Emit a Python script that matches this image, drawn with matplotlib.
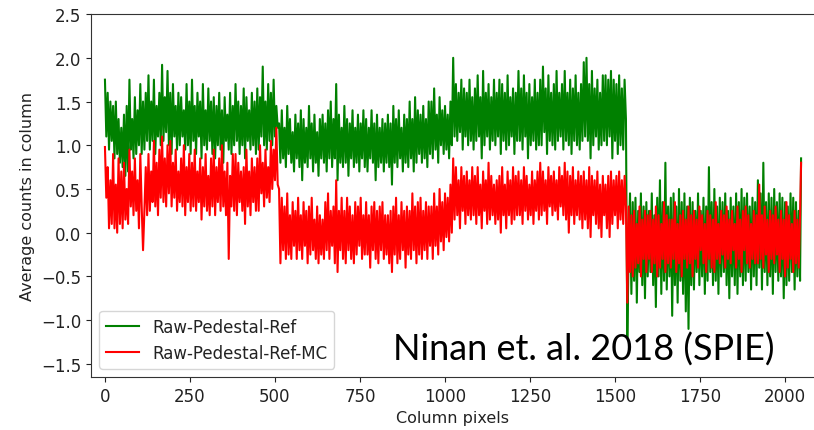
import matplotlib
matplotlib.use("Agg")
import matplotlib.pyplot as plt

# Column positions (every 4 columns, plus last column)
columns = list(range(0, 2048, 4)) + [2047]

ref = [
    1.75, 1.1, 1.6, 0.95, 1.5, 1.05, 1.45, 0.85, 1.5, 0.9, 1.3, 0.8, 1.2, 0.75, 1.35, 0.65,
    1.45, 0.7, 1.75, 0.95, 1.3, 0.85, 1.55, 0.9, 1.4, 1.0, 1.7, 0.9, 1.5, 0.95, 1.6, 1.05,
    1.8, 0.95, 1.5, 1.05, 1.75, 0.9, 1.45, 1.1, 1.6, 1.0, 1.92, 1.05, 1.55, 1.15, 1.85, 1.0,
    1.6, 0.9, 1.7, 1.1, 1.45, 0.95, 1.6, 1.0, 1.55, 1.1, 1.4, 0.95, 1.7, 1.0, 1.5, 0.9,
    1.75, 1.05, 1.45, 0.9, 1.6, 1.1, 1.5, 0.85, 1.7, 1.0, 1.4, 0.95, 1.65, 1.05, 1.5, 0.9,
    1.55, 0.85, 1.45, 1.0, 1.6, 0.95, 1.4, 0.8, 1.55, 1.05, 1.35, 0.95, 1.6, 0.9, 1.45, 1.0,
    1.7, 1.05, 1.5, 0.9, 1.45, 1.0, 1.65, 0.85, 1.55, 1.05, 1.4, 0.95, 1.6, 1.0, 1.5, 0.9,
    1.65, 0.95, 1.55, 1.1, 1.9, 1.0, 1.5, 0.95, 1.7, 1.05, 1.6, 1.0, 1.75, 1.1, 1.45, 1.2,
    1.25, 0.8, 1.4, 0.85, 1.2, 0.75, 1.45, 0.9, 1.3, 0.8, 1.15, 0.7, 1.35, 0.85, 1.25, 0.75,
    1.4, 0.6, 1.3, 0.8, 1.2, 0.75, 1.45, 0.85, 1.25, 0.7, 1.35, 0.8, 1.15, 0.65, 1.3, 0.85,
    1.35, 0.8, 1.25, 0.7, 1.4, 0.85, 1.5, 0.75, 1.3, 0.85, 1.7, 0.6, 1.35, 0.8, 1.2, 0.75,
    1.45, 0.8, 1.3, 0.65, 1.25, 0.85, 1.4, 0.75, 1.2, 0.8, 1.35, 0.7, 1.25, 0.85, 1.4, 0.75,
    1.3, 0.7, 1.2, 0.85, 1.4, 0.8, 1.25, 0.6, 1.35, 0.75, 1.2, 0.8, 1.3, 0.7, 1.25, 0.8,
    1.35, 0.75, 1.25, 0.55, 1.45, 0.8, 1.3, 0.75, 1.4, 0.85, 1.2, 0.7, 1.35, 0.8, 1.3, 0.75,
    1.5, 0.85, 1.3, 0.7, 1.55, 0.8, 1.4, 0.9, 1.35, 0.8, 1.45, 0.85, 1.3, 0.75, 1.5, 0.9,
    1.5, 0.85, 1.65, 0.95, 1.35, 0.8, 1.55, 1.0, 1.4, 0.9, 1.45, 0.95, 1.35, 0.85, 1.5, 1.0,
    2.0, 1.1, 1.7, 1.05, 1.6, 1.15, 1.75, 0.95, 1.65, 1.1, 1.6, 1.0, 1.75, 1.05, 1.55, 0.95,
    1.65, 1.05, 1.8, 1.1, 1.55, 0.85, 1.85, 1.0, 1.6, 1.1, 1.7, 0.95, 1.55, 1.05, 1.75, 1.0,
    1.6, 1.1, 1.75, 0.9, 1.7, 1.05, 1.6, 0.95, 1.8, 1.0, 1.55, 1.1, 1.65, 0.9, 1.6, 1.05,
    1.85, 1.05, 1.65, 0.95, 1.8, 1.1, 1.6, 0.85, 1.7, 1.0, 1.55, 1.05, 1.75, 0.95, 1.6, 1.0,
    1.75, 1.0, 1.9, 1.15, 1.65, 0.9, 1.8, 1.05, 1.6, 1.0, 1.7, 0.95, 1.85, 1.05, 1.6, 1.1,
    1.7, 0.95, 1.85, 1.05, 1.6, 1.0, 1.75, 0.9, 1.65, 1.05, 1.8, 1.0, 1.6, 0.95, 1.7, 1.05,
    1.95, 1.1, 2.0, 1.05, 1.7, 0.85, 1.85, 1.0, 1.65, 1.1, 1.75, 0.95, 1.6, 1.0, 1.8, 1.05,
    1.8, 1.0, 1.75, 1.1, 1.85, 0.85, 1.75, 1.05, 1.7, 0.9, 1.8, 1.0, 1.65, 0.95, 1.75, 1.3,
    -1.2, -0.2, 0.45, -0.7, 0.35, -0.55, 0.4, -0.8, 0.25, -0.45, 0.45, -0.6, 0.3, -0.75, 0.35, -0.5,
    0.25, -0.45, 0.45, -0.6, 0.2, -0.85, 0.4, -0.5, 0.6, -0.7, 0.35, -0.55, 0.8, -0.65, 0.3, -0.5,
    0.4, -0.95, 0.45, -0.6, 0.3, -0.8, 0.5, -0.55, 0.35, -0.7, 0.45, -0.9, 0.3, -1.1, 0.4, -0.6,
    0.35, -0.65, 0.25, -0.45, 0.45, -0.6, 0.25, -0.5, 0.4, -0.7, 0.3, -0.55, 0.75, -0.45, 0.35, -0.6,
    0.5, -0.55, 0.3, -0.7, 0.4, -0.5, 0.35, -0.45, 0.45, -0.6, 0.25, -0.75, 0.4, -0.5, 0.3, -0.6,
    0.45, -0.7, 0.35, -0.5, 0.5, -0.6, 0.4, -0.55, 0.45, -0.45, 0.3, -0.65, 0.4, -0.5, 0.35, -0.6,
    0.6, -0.4, 0.45, -0.65, 0.8, -0.45, 0.35, -0.6, 0.45, -0.5, 0.4, -0.7, 0.5, -0.45, 0.35, -0.55,
    0.45, -0.5, 0.4, -0.75, 0.35, -0.6, 0.3, -0.55, 0.45, -0.45, 0.4, -0.65, 0.35, -0.5, 0.25, -0.55,
    0.85,
]

ref_mc = [
    0.98, 0.4, 0.75, 0.05, 0.6, 0.1, 0.9, 0.05, 0.55, 0.0, 0.85, 0.1, 0.7, 0.05, 0.8, 0.15,
    0.5, 0.1, 0.95, 0.3, 0.7, 0.2, 0.85, 0.25, 0.6, 0.05, 0.9, 0.3, -0.2, 0.25, 0.75, 0.2,
    0.9, 0.25, 0.7, 0.35, 1.05, 0.3, 0.8, 0.2, 0.95, 0.4, 1.1, 0.35, 0.85, 0.3, 1.0, 0.45,
    1.05, 0.3, 0.8, 0.4, 0.95, 0.25, 0.7, 0.35, 0.85, 0.3, 1.0, 0.2, 0.75, 0.35, 0.9, 0.25,
    0.8, 0.3, 0.95, 0.25, 0.7, 0.35, 0.85, 0.15, 0.75, 0.3, 0.9, 0.25, 0.65, 0.2, 0.85, 0.3,
    0.95, 0.2, 0.75, 0.35, 0.85, 0.25, 1.0, 0.3, 0.7, 0.2, 0.8, -0.3, 0.65, 0.3, 0.9, 0.25,
    0.9, 0.2, 0.8, 0.35, 0.7, 0.25, 0.75, 0.1, 0.95, 0.3, 0.7, 0.2, 0.85, 0.35, 0.75, 0.25,
    0.85, 0.25, 1.0, 0.45, 0.8, 0.3, 0.95, 0.4, 0.75, 0.35, 1.05, 0.5, 0.95, 0.6, 1.2, 0.55,
    0.5, -0.35, 0.4, -0.2, 0.3, -0.3, 0.45, -0.25, 0.2, -0.3, 0.35, -0.15, 0.25, -0.3, 0.4, -0.2,
    0.2, -0.3, 0.35, -0.15, 0.25, -0.35, 0.3, -0.25, 0.4, -0.2, 0.15, -0.3, 0.3, -0.35, 0.2, -0.25,
    0.15, -0.3, 0.35, -0.2, 0.45, -0.3, 0.25, -0.15, 0.3, -0.35, 0.6, -0.45, 0.25, -0.2, 0.4, -0.3,
    0.25, -0.35, 0.4, -0.2, 0.3, -0.3, 0.2, -0.35, 0.35, -0.25, 0.3, -0.15, 0.4, -0.3, 0.2, -0.25,
    0.35, -0.25, 0.2, -0.4, 0.3, -0.2, 0.35, -0.3, 0.25, -0.35, 0.3, -0.2, 0.35, -0.3, 0.2, -0.25,
    0.2, -0.35, 0.25, -0.45, 0.3, -0.25, 0.4, -0.35, 0.2, -0.3, 0.35, -0.2, 0.25, -0.4, 0.3, -0.25,
    0.25, -0.3, 0.45, -0.2, 0.3, -0.35, 0.35, -0.25, 0.4, -0.3, 0.25, -0.2, 0.35, -0.3, 0.3, -0.15,
    0.3, -0.3, 0.45, -0.15, 0.3, -0.25, 0.5, -0.1, 0.35, -0.2, 0.45, -0.05, 0.4, -0.1, 0.55, 0.0,
    0.85, 0.15, 0.75, 0.2, 0.6, 0.05, 0.75, 0.25, 0.65, 0.1, 0.7, 0.2, 0.6, 0.15, 0.75, 0.2,
    0.65, 0.1, 0.75, 0.2, 0.55, 0.05, 0.7, 0.25, 0.6, 0.1, 0.8, 0.15, 0.65, 0.2, 0.55, 0.1,
    0.6, 0.15, 0.65, 0.0, 0.75, 0.2, 0.55, 0.05, 0.7, 0.2, 0.6, 0.1, 0.75, 0.15, 0.65, 0.2,
    0.7, 0.2, 0.6, 0.1, 0.75, 0.25, 0.65, 0.15, 0.55, 0.2, 0.7, 0.1, 0.6, 0.25, 0.7, 0.15,
    0.8, 0.2, 0.7, 0.25, 0.6, 0.1, 0.75, 0.3, 0.65, 0.2, 0.7, 0.25, 0.6, 0.15, 0.75, 0.3,
    0.65, 0.2, 0.8, 0.15, 0.7, 0.0, 0.65, 0.2, 0.75, 0.1, 0.6, 0.2, 0.7, 0.15, 0.65, 0.05,
    0.7, 0.15, 0.6, 0.05, 0.75, -0.05, 0.65, 0.2, 0.6, 0.1, 0.7, 0.05, 0.55, -0.05, 0.65, 0.2,
    0.55, 0.05, 0.65, -0.05, 0.7, 0.1, 0.6, 0.2, 0.65, 0.05, 0.7, 0.15, 0.6, 0.1, 0.65, 0.3,
    -0.8, 0.3, -0.45, 0.2, -0.5, 0.25, -0.4, 0.1, -0.35, 0.3, -0.5, 0.15, -0.3, 0.25, -0.45, 0.2,
    -0.3, 0.25, -0.45, 0.15, -0.35, 0.3, -0.5, 0.2, -0.4, 0.1, -0.3, 0.35, -0.45, 0.2, -0.35, 0.15,
    -0.4, 0.15, -0.3, 0.35, -0.45, 0.1, -0.35, 0.2, -0.5, 0.25, -0.3, 0.15, -0.4, 0.3, -0.35, 0.2,
    -0.5, 0.25, -0.3, 0.15, -0.4, 0.3, -0.2, 0.2, -0.35, 0.1, -0.45, 0.25, -0.3, 0.2, -0.4, 0.15,
    -0.45, 0.35, -0.3, 0.1, -0.35, 0.25, -0.25, 0.2, -0.4, 0.3, -0.3, 0.15, -0.35, 0.25, -0.2, 0.1,
    -0.4, 0.3, -0.3, 0.15, -0.45, 0.25, -0.2, 0.3, -0.35, 0.2, -0.4, 0.1, -0.3, 0.25, -0.35, 0.2,
    -0.35, 0.55, -0.3, 0.2, -0.4, 0.3, -0.25, 0.15, -0.45, 0.25, -0.3, 0.2, -0.35, 0.3, -0.25, 0.15,
    -0.45, 0.25, -0.3, 0.15, -0.5, 0.35, -0.4, 0.2, -0.3, 0.1, -0.45, 0.25, -0.35, 0.15, -0.4, 0.2,
    0.8,
]

x_ticks = [0, 250, 500, 750, 1000, 1250, 1500, 1750, 2000]
y_ticks = [-1.5, -1.0, -0.5, 0.0, 0.5, 1.0, 1.5, 2.0, 2.5]

plt.rcParams["font.family"] = ["DejaVu Sans"]

fig = plt.figure(figsize=(8.14, 4.31), dpi=100)
ax = fig.add_axes([0.1118, 0.123, 0.8882, 0.842])
ax.plot(columns, ref, color="green", lw=1.5, label="Raw-Pedestal-Ref")
ax.plot(columns, ref_mc, color="red", lw=1.5, label="Raw-Pedestal-Ref-MC")
ax.set_xlim(-41, 2085)
ax.set_ylim(-1.65, 2.5)
ax.set_xticks(x_ticks)
ax.set_yticks(y_ticks)
ax.tick_params(labelsize=12, colors="#222222")
for s in ax.spines.values():
    s.set_color("#333333")
ax.spines["right"].set_visible(False)
ax.set_xlabel("Column pixels", fontsize=11.5, color="#222222")
ax.set_ylabel("Average counts in column", fontsize=11.5, color="#222222")
leg = ax.legend(loc="lower left", fontsize=12)
for t in leg.get_texts():
    t.set_color("#222222")
ax.text(0.483, 0.188, "Ninan et. al. 2018 (SPIE)", transform=fig.transFigure,
        fontsize=26, family="Lato", va="center", ha="left", color="black")
fig.savefig("out.png", dpi=100)
